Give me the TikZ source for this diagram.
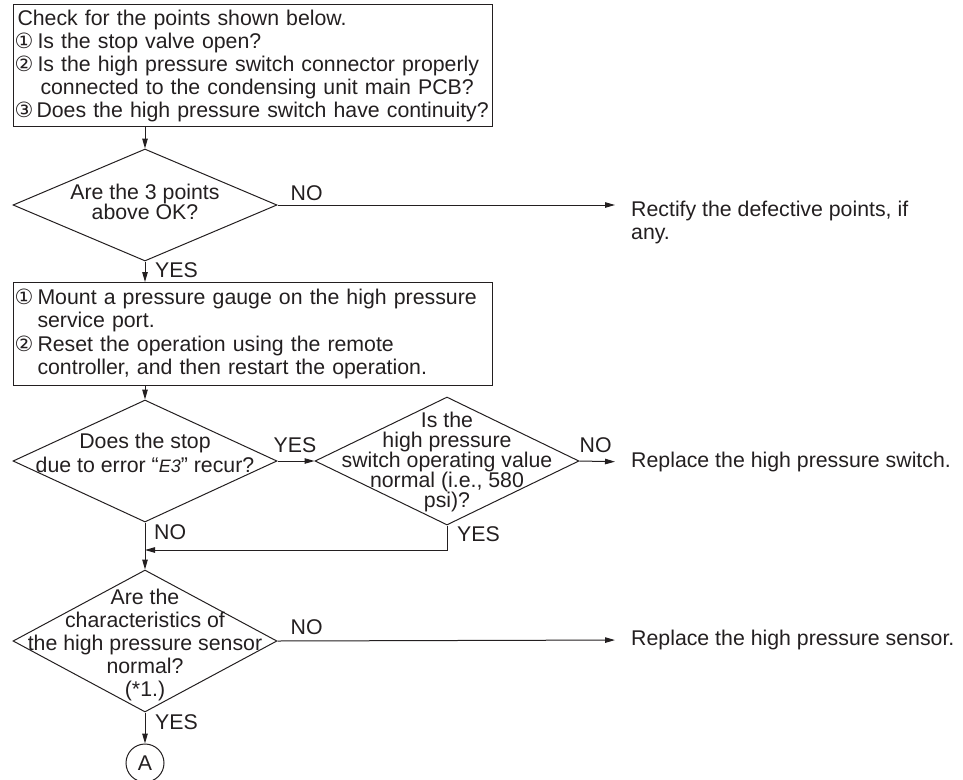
\documentclass[tikz,border=0pt]{standalone}
\usepackage{fontspec}
\setmainfont{Liberation Sans}
\newfontfamily\symfont{DejaVu Sans}
\usetikzlibrary{shapes.geometric,arrows.meta,positioning}
\definecolor{inkblack}{RGB}{35,31,32}

\newcommand{\cnum}[2][23pt]{\makebox[#1][l]{\symfont\fontsize{21}{21}\selectfont #2}}
\newcommand{\errcode}{{\itshape\fontsize{18}{18}\selectfont E3}}

\tikzset{
  every node/.style={text=inkblack, font=\fontsize{21.3}{23}\selectfont},
  checkbox/.style={rectangle, draw=inkblack, line width=1pt, anchor=north west,
    minimum width=479pt, text width=477pt, inner xsep=1pt, inner ysep=0pt, align=left},
  decision/.style={diamond, draw=inkblack, line width=1pt, inner sep=0pt, minimum width=264pt},
  question/.style={inner sep=0pt, align=center},
  answer/.style={inner sep=0pt},
  action/.style={inner sep=0pt, align=left, anchor=west},
  flow/.style={draw=inkblack, line width=1pt, -{Triangle[length=10pt,width=5.5pt]}},
}

\begin{document}
\begin{tikzpicture}[x=1pt, y=-1pt]
\useasboundingbox (0,0) rectangle (963,779);

% checks and first decision
\node[checkbox, minimum height=122pt] (check_box) at (13,4)
  {\hspace*{3pt}Check for the points shown below.\\
   \cnum{①}Is the stop valve open?\\
   \cnum{②}Is the high pressure switch connector properly\\
   \hspace*{26pt}connected to the condensing unit main PCB?\\
   \mbox{\cnum[22pt]{③}Does the high pressure switch have continuity?}};

\node[decision, minimum height=112pt] (points_ok) at (145,205) {};
\node[question, font=\fontsize{21.3}{20}\selectfont, yshift=3pt] (points_ok_txt) at (points_ok)
  {Are the 3 points\\ above OK?};
\node[action, anchor=north west] (rectify) at (631,201)
  {Rectify the defective points, if\\ any.};

% gauge and restart
\node[checkbox, minimum height=103pt, font=\fontsize{21.3}{23.5}\selectfont] (gauge_box) at (13,282)
  {\cnum{①}Mount a pressure gauge on the high pressure\\
   \hspace*{23pt}service port.\\
   \cnum{②}Reset the operation using the remote\\
   \hspace*{23pt}controller, and then restart the operation.};

\node[decision, minimum height=122pt] (e3_recur) at (145,461) {};
\node[question, font=\fontsize{21.3}{24}\selectfont, yshift=8pt] (e3_recur_txt) at (e3_recur)
  {Does the stop\\ due to error “\errcode” recur?};

\node[decision, minimum height=128pt] (hps_value) at (447,461) {};
\node[question, font=\fontsize{21.3}{20}\selectfont, yshift=-1pt] (hps_value_txt) at (hps_value)
  {Is the\\ high pressure\\ switch operating value\\ normal (i.e., 580\\ psi)?};
\node[action] (replace_switch) at (631,462) {Replace the high pressure switch.};

% sensor check
\node[decision, minimum height=142pt] (sensor_ok) at (145,641) {};
\node[question, font=\fontsize{21.3}{23}\selectfont, yshift=-4pt] (sensor_ok_txt) at (sensor_ok)
  {Are the\\ characteristics of\\ the high pressure sensor\\ normal?\\ (*1.)};
\node[action] (replace_sensor) at (631,640) {Replace the high pressure sensor.};

\node[circle, draw=inkblack, line width=1pt, minimum size=38pt, inner sep=0pt] (conn_a) at (145,763) {A};

\coordinate (merge) at (145,550);

% YES / NO labels
\node[answer, above right=4pt and 13pt of points_ok.east] (ok_no) {NO};
\node[answer, below right=1pt and 10pt of points_ok.south] (ok_yes) {YES};
\node[answer, above right=8pt and -4pt of e3_recur.east] (recur_yes) {YES};
\node[answer, below right=2pt and 9pt of e3_recur.south] (recur_no) {NO};
\node[answer, above right=8pt and 0pt of hps_value.east] (value_no) {NO};
\node[answer, below right=1pt and 10pt of hps_value.south] (value_yes) {YES};
\node[answer, above right=6pt and 13pt of sensor_ok.east] (sensor_no) {NO};
\node[answer, below right=2pt and 10pt of sensor_ok.south] (sensor_yes) {YES};

% connectors
\draw[flow] (check_box.south -| points_ok.north) -- (points_ok.north);
\draw[flow, shorten >=16pt] (points_ok.east) -- (points_ok.east -| rectify.west);
\draw[flow] (points_ok.south) -- (points_ok.south |- gauge_box.north);
\draw[flow] (gauge_box.south -| e3_recur.north) -- (e3_recur.north);
\draw[flow] (e3_recur.east) -- (hps_value.west);
\draw[flow, shorten >=16pt] (hps_value.east) -- (replace_switch.west);
\draw[flow] (hps_value.south) |- (merge);
\draw[flow] (e3_recur.south) -- (sensor_ok.north);
\draw[flow, shorten >=16pt] (sensor_ok.east) -- (replace_sensor.west);
\draw[flow] (sensor_ok.south) -- (conn_a.north);

\end{tikzpicture}
\end{document}
